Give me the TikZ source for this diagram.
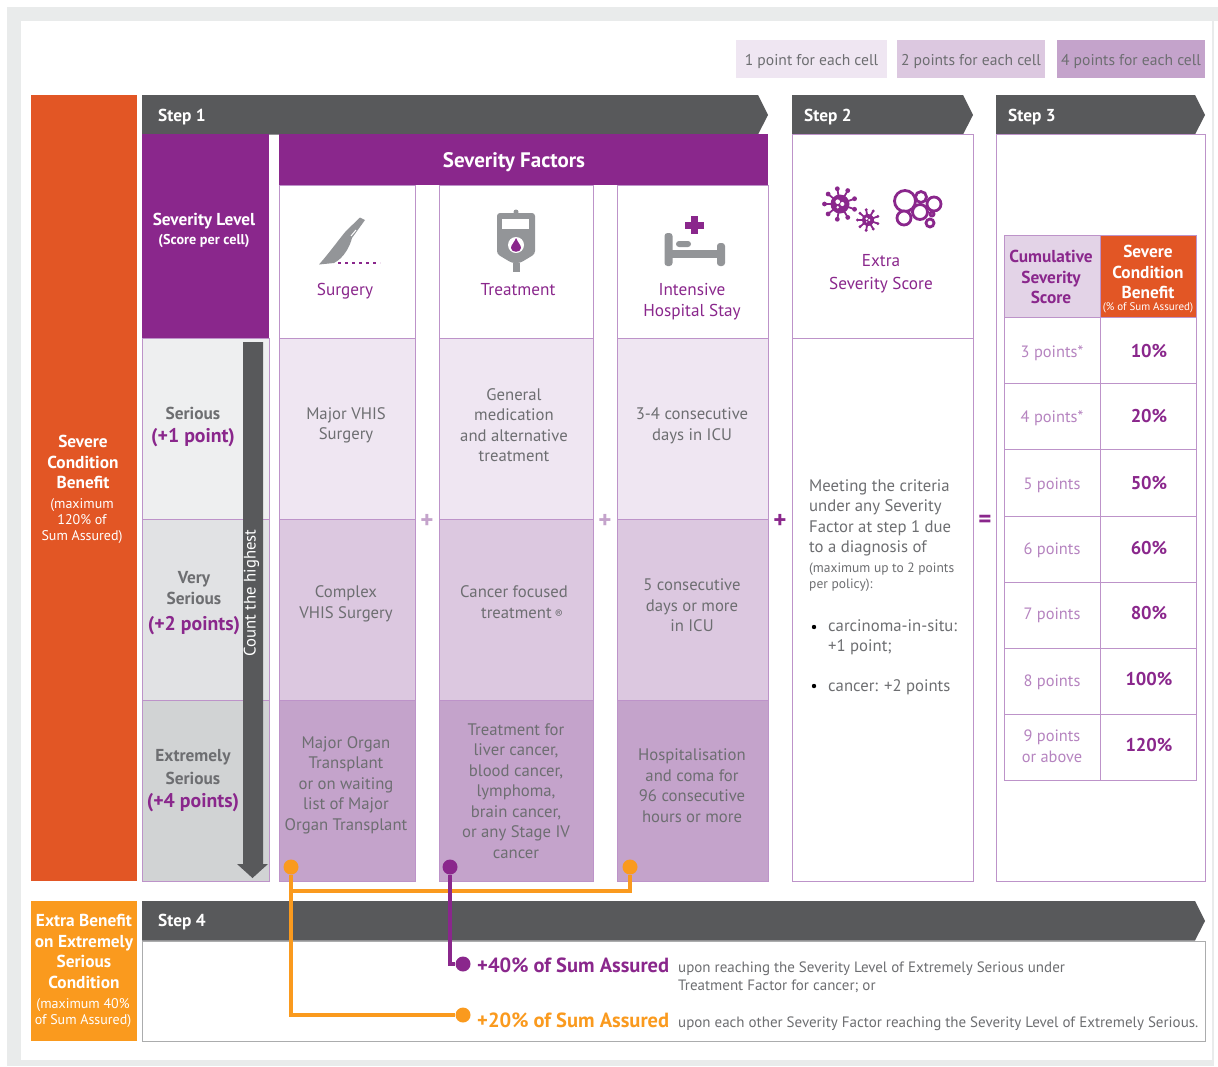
\documentclass[tikz,border=0pt]{standalone}
\usepackage{fontspec}
\setmainfont{PT Sans}
\usepackage{tikz}
\definecolor{barGrey}{HTML}{58595B}
\definecolor{textGrey}{HTML}{6D6E71}
\definecolor{iconGrey}{HTML}{939598}
\definecolor{sevPurple}{HTML}{8A278C}
\definecolor{lineLilac}{HTML}{BD93C9}
\definecolor{softLilac}{HTML}{B684C0}
\definecolor{cellOne}{HTML}{EFE6F2}
\definecolor{cellTwo}{HTML}{DCC8E0}
\definecolor{cellFour}{HTML}{C4A3CB}
\definecolor{headLilac}{HTML}{E3D3E7}
\definecolor{levelOne}{HTML}{EEEFF0}
\definecolor{levelTwo}{HTML}{E1E2E4}
\definecolor{levelFour}{HTML}{D1D3D4}
\definecolor{benefitOrange}{HTML}{E25625}
\definecolor{extraOrange}{HTML}{FA9A1E}
\definecolor{pageGrey}{HTML}{E9EBEB}
\tikzstyle{label text}=[align=center, inner sep=0pt, text=textGrey, font=\fontsize{16.7}{20.5}\selectfont]
\tikzstyle{left text}=[label text, anchor=west, align=left]
\tikzstyle{head text}=[label text, text=sevPurple, font=\fontsize{17.2}{20.5}\selectfont]
\tikzstyle{white head}=[label text, text=white, font=\fontsize{17.3}{20.5}\selectfont\bfseries]
\tikzstyle{step text}=[white head, anchor=west]
\tikzstyle{small text}=[label text, font=\fontsize{14}{16}\selectfont]
\tikzstyle{level text}=[label text, font=\fontsize{17.3}{23}\selectfont\bfseries]
\tikzstyle{points text}=[label text, text=sevPurple, font=\fontsize{19.8}{22}\selectfont\bfseries]
\tikzstyle{pay text}=[label text, text=sevPurple, font=\fontsize{18.5}{22}\selectfont\bfseries]
\tikzstyle{sign}=[label text, font=\fontsize{25}{25}\selectfont\bfseries]
\tikzstyle{cell}=[draw=lineLilac, line width=0.9pt, inner sep=0pt, minimum height=181pt]
\tikzstyle{key cell}=[draw=none, inner sep=0pt, minimum height=38pt, text height=12pt, text depth=0pt, text=textGrey, font=\fontsize{15.6}{20.5}\selectfont]
\tikzstyle{score cell}=[draw=lineLilac, line width=0.9pt, inner sep=0pt, minimum width=96pt]
\tikzstyle{dot}=[circle, inner sep=0pt, minimum size=15pt]
\tikzstyle{edge}=[draw, line width=3.6pt, -]
\begin{document}
\begin{tikzpicture}[x=1pt, y=-1pt]
\useasboundingbox (0,0) rectangle (1218,1066);
\fill[white] (0,0) rectangle (1218,1066);
% Page behind the chart
\fill[pageGrey] (7,7) rectangle (1218,1066);
\fill[white] (21,21) rectangle (1212,1060);
\fill[white] (1214,21) rectangle (1218,1066);

% First we draw the key
\foreach \pos/\wid/\col/\label/\name in {
	{(811.5,59)/151/cellOne/keyone/1 point for each cell},
	{(971,59)/148/cellTwo/keytwo/2 points for each cell},
	{(1131,59)/148/cellFour/keyfour/4 points for each cell}}
\node[key cell, fill=\col, minimum width=\wid pt] (\label) at \pos {\name};

% Side panels
\node[fill=benefitOrange, inner sep=0pt, minimum width=106pt, minimum height=786pt] (benefit) at (84,488) {};
\node[fill=extraOrange, inner sep=0pt, minimum width=106pt, minimum height=140pt] (extra) at (84,971) {};

% Step bars
\foreach \xa/\xb/\ya in {142/768/95, 792/973/95, 996/1205/95, 142/1205/901}
\fill[barGrey] (\xa,\ya) -- (\xb-10,\ya) -- (\xb,\ya+20) -- (\xb-10,\ya+39.5) -- (\xa,\ya+39.5) -- cycle;

% Purple headers
\node[fill=sevPurple, inner sep=0pt, minimum width=127pt, minimum height=204pt] (levelhead) at (205.5,236) {};
\node[fill=sevPurple, inner sep=0pt, minimum width=489pt, minimum height=51pt] (factorhead) at (523.5,159.5) {};

% Column heads
\foreach \pos/\wid/\label in {
	{(347,261.5)/136/surgeryhead},
	{(516,261.5)/154/treathead},
	{(692.5,261.5)/151/stayhead}}
\node[cell, minimum width=\wid pt, minimum height=153pt] (\label) at \pos {};

% Severity levels
\foreach \pos/\col/\label in {
	{(205.5,428.5)/levelOne/levelone},
	{(205.5,609.5)/levelTwo/leveltwo},
	{(205.5,790.5)/levelFour/levelfour}}
\node[cell, fill=\col, minimum width=127pt] (\label) at \pos {};

% Score cells
\foreach \x/\wid/\stub in {347/136/surgery, 516/154/treat, 692.5/151/stay}
{
\node[cell, fill=cellOne, minimum width=\wid pt] (\stub one) at (\x,428.5) {};
\node[cell, fill=cellTwo, minimum width=\wid pt] (\stub two) at (\x,609.5) {};
\node[cell, fill=cellFour, minimum width=\wid pt] (\stub four) at (\x,790.5) {};
}

% Step 2 and step 3 frames
\node[cell, minimum width=181pt, minimum height=204pt] (extrahead) at (882.5,236) {};
\node[cell, minimum width=181pt, minimum height=543pt] (extrabody) at (882.5,609.5) {};
\node[cell, minimum width=209pt, minimum height=747pt] (scoreframe) at (1100.5,507.5) {};
\node[draw=barGrey!50, line width=1pt, inner sep=0pt, minimum width=1063pt, minimum height=100pt] (extraframe) at (673.5,991) {};

% Score table
\node[score cell, fill=headLilac, minimum height=82pt] (tablehead) at (1052,276) {};
\node[score cell, fill=benefitOrange, minimum height=82pt] (tablepay) at (1148.5,276) {};
\foreach \y/\hgt/\label in {350/66/one, 416/66/two, 482.5/67/three, 549/66/four, 615/66/five, 681/66/six, 747/66/seven}
{
\node[score cell, minimum height=\hgt pt] (score\label) at (1052,\y) {};
\node[score cell, minimum height=\hgt pt] (pay\label) at (1148.5,\y) {};
}

% Count arrow
\fill[barGrey] (243,342) -- (263,342) -- (263,864) -- (268,864) -- (252.5,878) -- (237,864) -- (243,864) -- cycle;
\node[label text, text=white, rotate=90] (counttext) at (251.5,593) {Count the highest};

% Icons
\fill[iconGrey] (319,264.5) .. controls (330,252) and (340,238) .. (346,231) -- (360,217.5) -- (365,220) -- (352,238) .. controls (350,246) and (344,258) .. (334,263) -- cycle;
\draw[white, line width=1pt] (351,236) -- (356,230);
\draw[sevPurple, line width=2.4pt, dash pattern=on 3pt off 4pt] (338,263) -- (380,263);
\fill[iconGrey, rounded corners=3pt] (497,213) -- (535,213) -- (535,254) -- (520,263) -- (512,263) -- (497,254) -- cycle;
\fill[iconGrey] (516,212) circle (2.5);
\fill[iconGrey] (513,263) rectangle (520,272);
\fill[white] (502,219) rectangle (529,229);
\fill[white] (516,245) circle (8);
\fill[sevPurple] (516,238) .. controls (518,243) and (521,245) .. (521,248) .. controls (521,253) and (511,253) .. (511,248) .. controls (511,245) and (514,243) .. cycle;
\fill[iconGrey, rounded corners=3pt] (664.5,233) rectangle (672.5,266);
\fill[iconGrey, rounded corners=3pt] (717,243) rectangle (725,266);
\fill[iconGrey] (672,250) rectangle (718,258);
\fill[iconGrey, rounded corners=3pt] (676,241) rectangle (691,247);
\fill[sevPurple] (691,216) rectangle (698,234);
\fill[sevPurple] (685,221.5) rectangle (704,228.5);
\foreach \vx/\vy/\vr/\vs/\ve/\vw in {840/204/9.5/15.5/2.4/2.3, 868/220/6/10.5/1.6/1.3}
{
\fill[sevPurple] (\vx,\vy) circle (\vr);
\foreach \ang in {20,60,...,340}
{
\draw[sevPurple, line width=1.8pt] (\vx,\vy) -- ++(\ang:\vs);
\fill[sevPurple] (\vx,\vy) ++(\ang:\vs) circle (\ve);
}
\fill[white] (\vx-\vw,\vy-\vw) circle (\vw);
\fill[white] (\vx+\vw,\vy) circle (\vw*0.9);
\fill[white] (\vx-\vw,\vy+\vw*1.4) circle (\vw*0.6);
}
\foreach \bx/\by/\br in {905/201/10.5, 921/197/5.5, 934/204/7, 920/212/7.5, 904/218/7, 930/223/4, 932/214/2}
\draw[sevPurple, line width=2.8pt, fill=white] (\bx,\by) circle (\br);

% Signs between columns
\node[sign, text=cellFour] (plusone) at (427,521) {+};
\node[sign, text=cellFour] (plustwo) at (605,521) {+};
\node[sign, text=sevPurple] (plusthree) at (780,521) {+};
\node[sign, text=sevPurple] (equals) at (985,521) {=};

% Texts of the chart
\foreach \pos/\label/\name in {
	{(158,117)/stepone/Step 1},
	{(804,117)/steptwo/Step 2},
	{(1008,117)/stepthree/Step 3},
	{(158,922)/stepfour/Step 4}}
\node[step text] (\label) at \pos {\name};
\node[white head, font=\fontsize{21}{22}\selectfont\bfseries] (factortext) at (514,162) {Severity Factors};
\node[white head] (leveltext) at (204,221) {Severity Level};
\node[white head, font=\fontsize{14.2}{14}\selectfont\bfseries] (scoretext) at (204,241) {(Score per cell)};
\node[white head] (benefittext) at (83,462) {Severe\\Condition\\Benefit};
\node[small text, text=white] (benefitmax) at (82,521.5) {(maximum\\120\% of\\Sum Assured)};
\node[white head] (extratext) at (84,951.5) {Extra Benefit\\on Extremely\\Serious\\Condition};
\node[small text, text=white] (extramax) at (83,1013.5) {(maximum 40\%\\of Sum Assured)};

\foreach \pos/\label/\name in {
	{(345,291)/surgerytext/Surgery},
	{(518,289.5)/treattext/Treatment},
	{(692,301.5)/staytext/Intensive\\Hospital Stay}}
\node[head text] (\label) at \pos {\name};
\node[head text, font=\fontsize{17.2}{23}\selectfont] (extrascore) at (881,273.5) {Extra\\Severity Score};

\node[level text] (sevone) at (193,413) {Serious};
\node[points text] (ptsone) at (193,438) {(+1 point)};
\node[label text, font=\fontsize{17.3}{20.5}\selectfont\bfseries] (sevtwo) at (194,588) {Very\\Serious};
\node[points text] (ptstwo) at (194,625.5) {(+2 points)};
\node[level text] (sevfour) at (193,767.5) {Extremely\\Serious};
\node[points text] (ptsfour) at (193,803) {(+4 points)};

\foreach \pos/\label/\name in {
	{(346,425.5)/surgeryone text/Major VHIS\\Surgery},
	{(514,425)/treatone text/General\\medication\\and alternative\\treatment},
	{(692,426)/stayone text/3-4 consecutive\\days in ICU},
	{(346,604)/surgerytwo text/Complex\\VHIS Surgery},
	{(514,602)/treattwo text/Cancer focused\\\hspace*{16pt}treatment\,{\fontsize{12}{12}\selectfont\textregistered}},
	{(692,605.5)/staytwo text/5 consecutive\\days or more\\in ICU},
	{(346,785)/surgeryfour text/Major Organ\\Transplant\\or on waiting\\list of Major\\Organ Transplant},
	{(516,791)/treatfour text/Treatment for\\liver cancer,\\blood cancer,\\lymphoma,\\brain cancer,\\or any Stage IV\\cancer},
	{(692,785.5)/stayfour text/Hospitalisation\\and coma for\\96 consecutive\\hours or more}}
\node[label text] (\label) at \pos {\name};

% Step 2 text
\node[left text] (critria) at (809,518) {Meeting the criteria\\under any Severity\\Factor at step 1 due\\to a diagnosis of};
\node[left text, font=\fontsize{13.5}{16}\selectfont] (maxpoints) at (809,577) {(maximum up to 2 points\\per policy):};
\node[left text] (insitu) at (828,637) {carcinoma-in-situ:\\+1 point;};
\node[left text] (cancer) at (828,687) {cancer: +2 points};
\fill[black] (814,627) circle (2.2);
\fill[black] (814,686) circle (2.2);

% Step 3 text
\node[head text, font=\fontsize{17.3}{20.5}\selectfont\bfseries] (cumtext) at (1051,277) {Cumulative\\Severity\\Score};
\node[white head] (paytext) at (1148,272) {Severe\\Condition\\Benefit};
\node[label text, text=white, font=\fontsize{11}{11}\selectfont] (paynote) at (1148,308) {(\% of Sum Assured)};
\foreach \y/\pts/\label in {353/3 points*/a, 418/4 points*/b, 485/5 points/c, 550/6 points/d, 615/7 points/e, 682/8 points/f, 746/9 points\\or above/g}
\node[label text, text=softLilac, font=\fontsize{16.4}{20.5}\selectfont] (pts\label) at (1052,\y) {\pts};
\foreach \y/\pay/\label in {351/10\%/a, 416/20\%/b, 483/50\%/c, 548/60\%/d, 613/80\%/e, 679/100\%/f, 745/120\%/g}
\node[pay text] (pay\label) at (1149,\y) {\pay};

% Step 4 text
\node[left text, text=sevPurple, font=\fontsize{20.5}{22}\selectfont\bfseries] (fortytext) at (477,965) {+40\% of Sum Assured};
\node[left text, anchor=north west, font=\fontsize{15}{18}\selectfont] (fortynote) at (678,962) {upon reaching the Severity Level of Extremely Serious under\\Treatment Factor for cancer; or};
\node[left text, text=extraOrange, font=\fontsize{20.5}{22}\selectfont\bfseries] (twentytext) at (477,1020) {+20\% of Sum Assured};
\node[left text, font=\fontsize{15}{18}\selectfont] (twentynote) at (678,1024) {upon each other Severity Factor reaching the Severity Level of Extremely Serious.};

% Connect the cells with the extra benefits
\node[dot, fill=extraOrange] (dotsurgery) at (291,867) {};
\node[dot, fill=extraOrange] (dotstay) at (630,867) {};
\node[dot, fill=sevPurple] (dottreat) at (450,867) {};
\node[dot, fill=extraOrange] (dottwenty) at (463,1015) {};
\node[dot, fill=sevPurple] (dotforty) at (463,964) {};
\path[edge, extraOrange] (dotsurgery) |- (dottwenty);
\path[edge, extraOrange] (dotsurgery) |- ++(0,24) -| (dotstay);
\path[edge, sevPurple] (dottreat) |- (dotforty);

\end{tikzpicture}
\end{document}
